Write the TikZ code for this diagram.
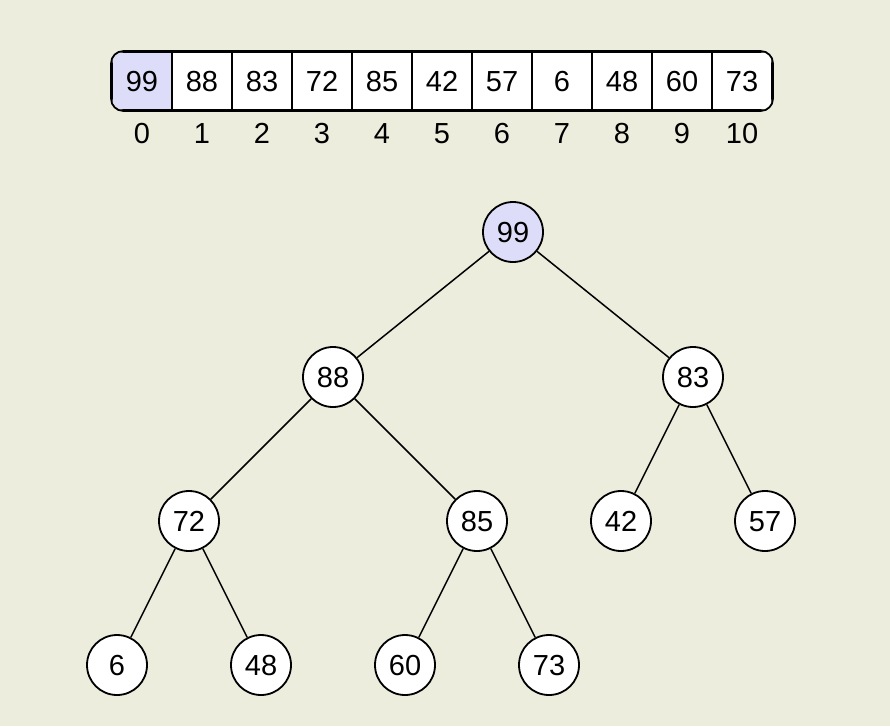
\documentclass[tikz,border=0pt]{standalone}
\usepackage{fontspec}
\setmainfont{Liberation Sans}
\definecolor{paper}{RGB}{237,237,222}
\definecolor{hilite}{RGB}{221,221,250}
\tikzset{
  digits/.style={font=\fontsize{29}{34}\selectfont, text height=21pt, text depth=0pt},
  heap/.style={circle, draw, fill=white, line width=1.8pt, minimum size=60pt, inner sep=0pt, digits},
  cell/.style={rectangle, draw, line width=1.8pt, minimum width=60pt, minimum height=58pt, inner sep=0pt, digits},
  idx/.style={inner sep=0pt, digits},
  edge/.style={line width=1.5pt}
}
\begin{document}
\begin{tikzpicture}[x=1pt,y=-1pt]
\fill[paper] (0,0) rectangle (890,726);
\useasboundingbox (0,0) rectangle (890,726);

% the array
\begin{scope}
\clip[rounded corners=12pt] (112,52) rectangle (772,110);
\node[cell, fill=hilite] (a0) at (142,81) {99};
\node[cell, fill=white] (a1) at (202,81) {88};
\node[cell, fill=white] (a2) at (262,81) {83};
\node[cell, fill=white] (a3) at (322,81) {72};
\node[cell, fill=white] (a4) at (382,81) {85};
\node[cell, fill=white] (a5) at (442,81) {42};
\node[cell, fill=white] (a6) at (502,81) {57};
\node[cell, fill=white] (a7) at (562,81) {6};
\node[cell, fill=white] (a8) at (622,81) {48};
\node[cell, fill=white] (a9) at (682,81) {60};
\node[cell, fill=white] (a10) at (742,81) {73};
\end{scope}
\draw[line width=1.8pt, rounded corners=12pt] (a0.north west) rectangle (a10.south east);

\node[idx] (i0) at (142,133) {0};
\node[idx] (i1) at (202,133) {1};
\node[idx] (i2) at (262,133) {2};
\node[idx] (i3) at (322,133) {3};
\node[idx] (i4) at (382,133) {4};
\node[idx] (i5) at (442,133) {5};
\node[idx] (i6) at (502,133) {6};
\node[idx] (i7) at (562,133) {7};
\node[idx] (i8) at (622,133) {8};
\node[idx] (i9) at (682,133) {9};
\node[idx] (i10) at (742,133) {10};

% the heap as a tree
\node[heap, fill=hilite] (R) at (513,232) {99};
\node[heap] (L) at (333,377) {88};
\node[heap] (RR) at (693,377) {83};
\node[heap] (LL) at (189,521) {72};
\node[heap] (LR) at (477,521) {85};
\node[heap] (RL) at (621,521) {42};
\node[heap] (RRR) at (765,521) {57};
\node[heap] (LLL) at (117,665) {6};
\node[heap] (LLR) at (261,665) {48};
\node[heap] (LRL) at (405,665) {60};
\node[heap] (LRR) at (549,665) {73};

\draw[edge] (R)--(L);
\draw[edge] (R)--(RR);
\draw[edge] (L)--(LL);
\draw[edge] (L)--(LR);
\draw[edge] (RR)--(RL);
\draw[edge] (RR)--(RRR);
\draw[edge] (LL)--(LLL);
\draw[edge] (LL)--(LLR);
\draw[edge] (LR)--(LRL);
\draw[edge] (LR)--(LRR);
\end{tikzpicture}
\end{document}
